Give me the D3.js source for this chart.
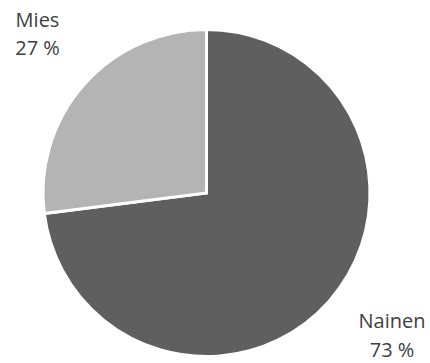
<!DOCTYPE html>
<html>
<head>
<meta charset="utf-8">
<script src="https://cdn.jsdelivr.net/npm/d3@7"></script>
<style>
  html, body { margin: 0; padding: 0; background: #ffffff; }
  svg { display: block; }
</style>
</head>
<body>
<svg id="chart" width="430" height="363"></svg>
<script>
// Gender distribution
const categories = ["Nainen", "Mies"];
const values = [73, 27];
const valueLabels = ["73 %", "27 %"];
const colors = ["#5f5f5f", "#b4b4b4"];

const svg = d3.select("#chart");
const cx = 206.5, cy = 193, radius = 163.5;

const pie = d3.pie().sort(null).value(d => d.value);
const arcs = pie(categories.map((c, i) => ({ name: c, value: values[i], label: valueLabels[i], color: colors[i] })));

const arc = d3.arc().innerRadius(0).outerRadius(radius);

const g = svg.append("g").attr("transform", `translate(${cx},${cy})`);

g.selectAll("path")
  .data(arcs)
  .join("path")
  .attr("d", arc)
  .attr("fill", d => d.data.color)
  .attr("stroke", "#ffffff")
  .attr("stroke-width", 3)
  .attr("stroke-linejoin", "miter");

// Outside labels: category name above its percentage
const labelPos = {
  "Nainen": { x: 392, y: 328 },
  "Mies": { x: 37.5, y: 26.5 }
};

const labels = svg.selectAll("g.label")
  .data(arcs)
  .join("g")
  .attr("class", "label")
  .attr("transform", d => `translate(${labelPos[d.data.name].x},${labelPos[d.data.name].y})`);

labels.append("text")
  .attr("text-anchor", "middle")
  .attr("font-family", "'Open Sans', sans-serif")
  .attr("font-size", 20)
  .attr("fill", "#404040")
  .text(d => d.data.name);

labels.append("text")
  .attr("text-anchor", "middle")
  .attr("y", 28.5)
  .attr("font-family", "'Open Sans', sans-serif")
  .attr("font-size", 20)
  .attr("fill", "#404040")
  .text(d => d.data.label);
</script>
</body>
</html>
